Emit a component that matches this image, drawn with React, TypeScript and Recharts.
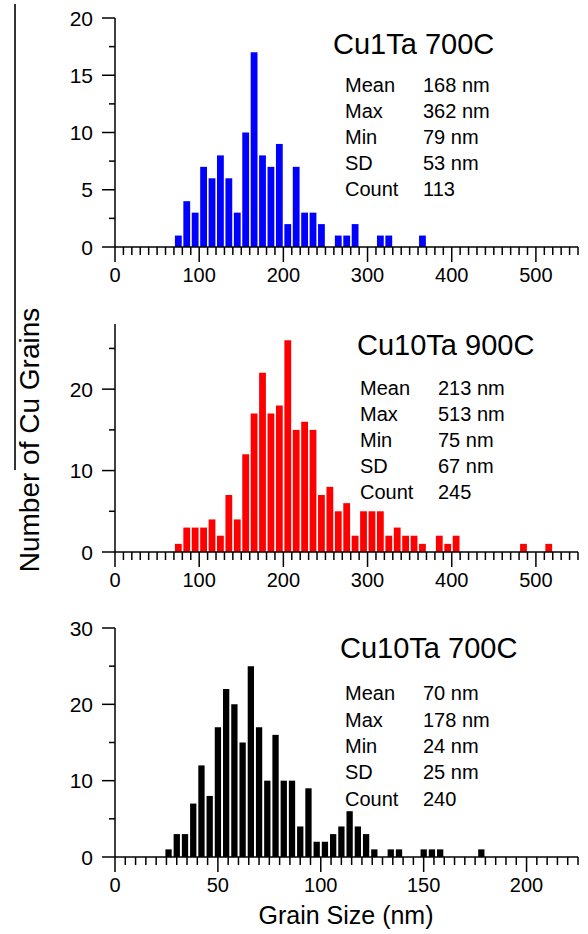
import React from 'react';
import { BarChart, Bar, XAxis, YAxis } from 'recharts';

// ---- Data ----
const cu1Ta700Bins = [75, 85, 95, 105, 115, 125, 135, 145, 155, 165, 175, 185, 195, 205, 215, 225, 235, 245, 255, 265, 275, 285, 295, 305, 315, 325, 335, 345, 355, 365];
const cu1Ta700Counts = [1, 4, 3, 7, 6, 8, 6, 3, 10, 17, 8, 7, 9, 2, 7, 3, 3, 2, 0, 1, 1, 2, 0, 0, 1, 1, 0, 0, 0, 1];

const cu10Ta900Bins = [75, 85, 95, 105, 115, 125, 135, 145, 155, 165, 175, 185, 195, 205, 215, 225, 235, 245, 255, 265, 275, 285, 295, 305, 315, 325, 335, 345, 355, 365, 375, 385, 395, 405, 485, 515];
const cu10Ta900Counts = [1, 3, 3, 3, 4, 2, 7, 4, 12, 17, 22, 17, 18, 26, 15, 16, 15, 7, 8, 5, 6, 2, 5, 5, 5, 2, 3, 2, 2, 1, 0, 2, 1, 2, 1, 1];

const cu10Ta700Bins = [26, 30, 34, 38, 42, 46, 50, 54, 58, 62, 66, 70, 74, 78, 82, 86, 90, 94, 98, 102, 106, 110, 114, 118, 122, 126, 130, 134, 138, 150, 154, 158, 178];
const cu10Ta700Counts = [1, 3, 3, 7, 12, 8, 17, 22, 20, 15, 25, 17, 10, 16, 10, 10, 4, 9, 2, 2, 3, 4, 6, 4, 3, 1, 0, 1, 1, 1, 1, 1, 1];

const wideXMajor = [0, 100, 200, 300, 400, 500];
const narrowXMajor = [0, 50, 100, 150, 200];
const yMajor1 = [0, 5, 10, 15, 20];
const yMajor2 = [0, 10, 20];
const yMajor3 = [0, 10, 20, 30];

const stats1 = [['Mean', '168 nm'], ['Max', '362 nm'], ['Min', '79 nm'], ['SD', '53 nm'], ['Count', '113']];
const stats2 = [['Mean', '213 nm'], ['Max', '513 nm'], ['Min', '75 nm'], ['SD', '67 nm'], ['Count', '245']];
const stats3 = [['Mean', '70 nm'], ['Max', '178 nm'], ['Min', '24 nm'], ['SD', '25 nm'], ['Count', '240']];

const FONT = '"Liberation Sans", Arial, Helvetica, sans-serif';

function makeData(bins: number[], counts: number[]) {
  return bins.map((b, i) => ({ size: b, count: counts[i] }));
}

function range(start: number, end: number, step: number) {
  const out: number[] = [];
  for (let v = start; v <= end + 1e-9; v += step) out.push(Math.round(v * 100) / 100);
  return out;
}

const XTick = (props: any) => {
  const { x, y, payload, majors } = props;
  const v = payload.value;
  const isMajor = majors.includes(v);
  return (
    <g>
      <line x1={x} y1={y} x2={x} y2={y + (isMajor ? 15 : 8)} stroke="#000" strokeWidth={1.5} />
      {isMajor && (
        <text x={x} y={y + 28} textAnchor="middle" dominantBaseline="central" fontSize={20} fontFamily={FONT} fill="#000">
          {v}
        </text>
      )}
    </g>
  );
};

const YTick = (props: any) => {
  const { x, y, payload, majors } = props;
  const v = payload.value;
  const isMajor = majors.includes(v);
  return (
    <g>
      <line x1={x} y1={y} x2={x - (isMajor ? 13 : 6)} y2={y} stroke="#000" strokeWidth={1.5} />
      {isMajor && (
        <text x={x - 22} y={y} textAnchor="end" dominantBaseline="central" fontSize={21} fontFamily={FONT} fill="#000">
          {v}
        </text>
      )}
    </g>
  );
};

type PanelProps = {
  data: { size: number; count: number }[];
  color: string;
  xMax: number;
  xTicks: number[];
  xMajor: number[];
  yMax: number;
  yTicks: number[];
  yMajor: number[];
  height: number;
  top: number;
  bottom: number;
  barSize: number;
};

function Panel(p: PanelProps) {
  return (
    <BarChart
      width={588}
      height={p.height}
      data={p.data}
      margin={{ top: p.top, right: 10, bottom: p.bottom - 30, left: 55 }}
    >
      <XAxis
        dataKey="size"
        type="number"
        domain={[0, p.xMax]}
        allowDataOverflow
        ticks={p.xTicks}
        interval={0}
        tickSize={0}
        tickMargin={0}
        tickLine={false}
        axisLine={{ stroke: '#000', strokeWidth: 1.5 }}
        tick={(tp: any) => <XTick {...tp} majors={p.xMajor} />}
        height={30}
      />
      <YAxis
        type="number"
        domain={[0, p.yMax]}
        allowDataOverflow
        ticks={p.yTicks}
        interval={0}
        tickSize={0}
        tickMargin={0}
        tickLine={false}
        axisLine={{ stroke: '#000', strokeWidth: 1.5 }}
        tick={(tp: any) => <YTick {...tp} majors={p.yMajor} />}
        width={60}
      />
      <Bar dataKey="count" fill={p.color} barSize={p.barSize} isAnimationActive={false} />
    </BarChart>
  );
}

function Stats(props: { title: string; titleX: number; titleY: number; rows: string[][]; labelX: number; valueX: number; rowY: number[] }) {
  return (
    <>
      <div style={{ position: 'absolute', left: props.titleX, top: props.titleY - 17, height: 34, lineHeight: '34px', fontSize: 29, fontFamily: FONT, color: '#000', whiteSpace: 'nowrap' }}>
        {props.title}
      </div>
      {props.rows.map((r, i) => (
        <React.Fragment key={i}>
          <div style={{ position: 'absolute', left: props.labelX, top: props.rowY[i] - 12, height: 24, lineHeight: '24px', fontSize: 20, fontFamily: FONT, color: '#000', whiteSpace: 'nowrap' }}>
            {r[0]}
          </div>
          <div style={{ position: 'absolute', left: props.valueX, top: props.rowY[i] - 12, height: 24, lineHeight: '24px', fontSize: 20, fontFamily: FONT, color: '#000', whiteSpace: 'nowrap' }}>
            {r[1]}
          </div>
        </React.Fragment>
      ))}
    </>
  );
}

export default function App() {
  const wideTicks = range(0, 550, 10);
  const narrowTicks = range(0, 225, 5);
  return (
    <div style={{ position: 'absolute', left: 0, top: 0, width: 588, height: 934, background: '#fff', overflow: 'hidden' }}>
      <div style={{ position: 'absolute', left: 0, top: 0 }}>
        <Panel data={makeData(cu1Ta700Bins, cu1Ta700Counts)} color="#0000FF" xMax={550} xTicks={wideTicks} xMajor={wideXMajor}
          yMax={20} yTicks={range(0, 20, 2.5)} yMajor={yMajor1} height={300} top={18} bottom={53} barSize={6.8} />
      </div>
      <div style={{ position: 'absolute', left: 0, top: 300 }}>
        <Panel data={makeData(cu10Ta900Bins, cu10Ta900Counts)} color="#FF0000" xMax={550} xTicks={wideTicks} xMajor={wideXMajor}
          yMax={28} yTicks={range(0, 25, 5)} yMajor={yMajor2} height={310} top={24} bottom={58} barSize={6.8} />
      </div>
      <div style={{ position: 'absolute', left: 0, top: 610 }}>
        <Panel data={makeData(cu10Ta700Bins, cu10Ta700Counts)} color="#000000" xMax={225} xTicks={narrowTicks} xMajor={narrowXMajor}
          yMax={30} yTicks={range(0, 30, 5)} yMajor={yMajor3} height={324} top={18} bottom={77} barSize={6.3} />
      </div>

      <Stats title="Cu1Ta 700C" titleX={333} titleY={44} rows={stats1} labelX={345} valueX={423} rowY={[85, 111, 137, 163, 189]} />
      <Stats title="Cu10Ta 900C" titleX={357} titleY={345} rows={stats2} labelX={360} valueX={438} rowY={[388, 414, 440, 466, 492]} />
      <Stats title="Cu10Ta 700C" titleX={340} titleY={648} rows={stats3} labelX={345} valueX={423} rowY={[693, 720, 746, 772, 799]} />

      <div style={{ position: 'absolute', left: 14, top: 4, width: 1.5, height: 466, background: '#333' }} />
      <div style={{ position: 'absolute', left: 30, top: 440, width: 0, height: 0 }}>
        <div style={{ position: 'absolute', left: -160, top: -16, width: 320, height: 32, lineHeight: '32px', textAlign: 'center', fontSize: 28, fontFamily: FONT, color: '#000', transform: 'rotate(-90deg)', whiteSpace: 'nowrap' }}>
          Number of Cu Grains
        </div>
      </div>
      <div style={{ position: 'absolute', left: 346 - 150, top: 915 - 15, width: 300, height: 30, lineHeight: '30px', textAlign: 'center', fontSize: 25, fontFamily: FONT, color: '#000' }}>
        Grain Size (nm)
      </div>
    </div>
  );
}
